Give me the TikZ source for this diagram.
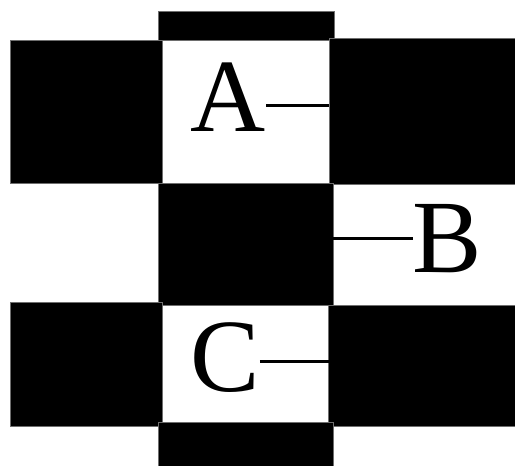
\documentclass[tikz,border=0pt]{standalone}
\usepackage{fontspec}
\setmainfont{Liberation Serif}
\usetikzlibrary{positioning}
\definecolor{edge}{RGB}{110,110,110}

\begin{document}
\begin{tikzpicture}[x=1pt,y=-1pt,
    blk/.style={fill=black,draw=edge,line width=1pt},
    wht/.style={fill=white,draw=edge,line width=1pt},
    lbl/.style={inner sep=0pt,font=\fontsize{104}{104}\selectfont},
    lead/.style={line width=3pt}]
        \useasboundingbox (0,0) rectangle (515,466);
        % white cells
        \draw[wht] (162,40) rectangle (329,183);
        \draw[wht] (333,184) rectangle (515,305);
        \draw[wht] (162,302) rectangle (328,422);
        % black cells
        \draw[blk] (158,11) rectangle (334,40);
        \draw[blk] (10,40) rectangle (162,183);
        \draw[blk] (329,38) rectangle (515,184);
        \draw[blk] (158,183) rectangle (333,305);
        \draw[blk] (10,302) rectangle (162,426);
        \draw[blk] (328,305) rectangle (515,426);
        \draw[blk] (158,422) rectangle (333,466);
        % labels
        \node[lbl] (A) at (228.5,97.5) {A};
        \node[lbl] (B) at (447.5,239) {B};
        \node[lbl] (C) at (225,358) {C};
        \coordinate (aend) at (329,105);
        \coordinate (bend) at (333,238);
        \coordinate (cend) at (329,361);
        \draw[lead] (A.east |- aend) -- (aend);
        \draw[lead] (B.west |- bend) -- (bend);
        \draw[lead] (C.east |- cend) -- (cend);
      \end{tikzpicture}
\end{document}
